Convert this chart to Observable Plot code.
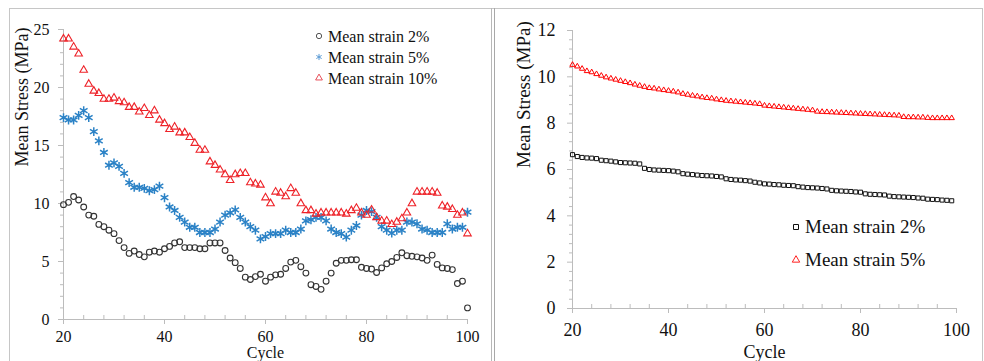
<!DOCTYPE html>
<html>
<head>
<meta charset="utf-8">
<script src="https://cdn.jsdelivr.net/npm/d3@7"></script>
<script src="https://cdn.jsdelivr.net/npm/@observablehq/plot@0.6"></script>
<style>
  html, body { margin: 0; padding: 0; background: #fff; }
  #root { position: relative; width: 984px; height: 361px; overflow: hidden;
          font-family: "Liberation Serif", "Times New Roman", serif; color: #111; }
  .line { position: absolute; background: #c6c6c6; }
  .plot { position: absolute; }
  .plot svg text { font-family: "Liberation Serif", "Times New Roman", serif; }
  .legend { position: absolute; }
  .legend .row { display: flex; align-items: center; white-space: nowrap; }
  .legend svg { display: block; flex: none; }
</style>
</head>
<body>
<div id="root">
  <div class="line" style="left:9px;top:8px;width:974px;height:1px;"></div>
  <div class="line" style="left:9px;top:8px;width:1px;height:353px;"></div>
  <div class="line" style="left:491px;top:8px;width:1px;height:353px;background:#b8b8b8;"></div>
  <div class="line" style="left:494px;top:8px;width:1px;height:353px;background:#a8a8a8;"></div>
  <div class="line" style="left:982px;top:8px;width:1px;height:353px;"></div>
  <div id="left" class="plot" style="left:9px;top:8px;"></div>
  <div id="right" class="plot" style="left:493px;top:8px;"></div>
  <div id="legL" class="legend" style="left:314px;top:25.8px;font-size:16px;line-height:21px;"></div>
  <div id="legR" class="legend" style="left:791px;top:210px;font-size:19px;line-height:33px;"></div>
</div>
<script>
// ---------- Data: left panel ----------
const cyclesLeft = [20,21,22,23,24,25,26,27,28,29,30,31,32,33,34,35,36,37,38,39,
  40,41,42,43,44,45,46,47,48,49,50,51,52,53,54,55,56,57,58,59,
  60,61,62,63,64,65,66,67,68,69,70,71,72,73,74,75,76,77,78,79,
  80,81,82,83,84,85,86,87,88,89,90,91,92,93,94,95,96,97,98,99,100];
const strain2L = [9.9,10.1,10.6,10.3,9.7,9.0,8.9,8.2,8.0,7.7,
  7.4,6.8,6.2,5.7,5.9,5.6,5.4,5.8,5.9,5.8,
  6.1,6.3,6.6,6.7,6.2,6.2,6.2,6.1,6.1,6.6,
  6.6,6.6,5.95,5.3,4.9,4.4,3.65,3.45,3.7,3.9,
  3.3,3.65,3.85,3.9,4.4,4.95,5.1,4.55,4.0,3.0,
  2.85,2.6,3.3,4.0,4.85,5.1,5.1,5.15,5.15,4.5,
  4.4,4.35,4.05,4.45,4.8,5.0,5.35,5.75,5.5,5.45,
  5.4,5.3,5.1,5.55,4.75,4.45,4.4,4.3,3.1,3.3,
  1.0];
const strain5L = [17.4,17.2,17.2,17.6,18.0,17.4,16.2,15.4,14.4,13.3,
  13.5,13.2,12.6,11.8,11.4,11.4,11.3,11.1,11.2,11.5,
  10.5,9.7,9.4,8.8,8.4,7.95,7.95,7.5,7.5,7.5,
  7.8,8.4,9.0,9.2,9.45,8.8,8.4,8.0,7.7,6.95,
  7.15,7.4,7.4,7.4,7.7,7.5,7.5,7.8,8.5,8.6,
  8.8,8.8,8.5,7.8,7.5,7.4,7.1,7.7,8.1,9.0,
  9.4,9.3,8.8,8.0,7.7,7.45,7.7,7.7,8.4,8.4,
  8.25,7.8,7.7,7.5,7.5,7.5,8.25,7.8,7.95,7.95,
  9.25];
const strain10L = [24.2,24.2,23.5,22.9,21.5,20.3,19.7,19.5,19.0,19.0,
  19.1,18.8,18.7,18.3,18.3,17.9,18.2,17.6,18.0,17.2,
  16.9,16.4,16.6,16.1,16.1,15.7,15.2,14.6,14.6,13.6,
  13.3,12.9,12.5,12.0,12.5,12.6,12.6,11.8,11.7,11.6,
  10.5,10.0,11.0,10.9,10.6,11.3,10.9,10.0,9.4,9.4,
  9.1,9.2,9.2,9.2,9.2,9.2,9.1,9.4,9.6,9.2,
  9.0,9.45,8.8,8.5,8.5,8.2,8.4,8.7,9.2,10.0,
  11.0,11.0,11.0,11.0,10.9,9.8,9.7,9.5,9.0,9.2,
  7.4];
const xTicksLeft = [20, 40, 60, 80, 100];
const xMinorLeft = [24,28,32,36,44,48,52,56,64,68,72,76,84,88,92,96];
const yTicksLeft = [0, 5, 10, 15, 20, 25];
const yMinorLeft = [1,2,3,4,6,7,8,9,11,12,13,14,16,17,18,19,21,22,23,24];
const legendLeft = ["Mean strain 2%", "Mean strain 5%", "Mean strain 10%"];

// ---------- Data: right panel ----------
const cyclesRight = [20,21,22,23,24,25,26,27,28,29,30,31,32,33,34,35,36,37,38,39,
  40,41,42,43,44,45,46,47,48,49,50,51,52,53,54,55,56,57,58,59,
  60,61,62,63,64,65,66,67,68,69,70,71,72,73,74,75,76,77,78,79,
  80,81,82,83,84,85,86,87,88,89,90,91,92,93,94,95,96,97,98,99];
const strain2R = [6.64,6.56,6.52,6.5,6.49,6.47,6.4,6.38,6.36,6.33,
  6.3,6.29,6.28,6.27,6.24,6.05,6.0,5.98,5.97,5.96,
  5.95,5.93,5.9,5.82,5.8,5.78,5.76,5.74,5.73,5.72,
  5.7,5.68,5.6,5.57,5.55,5.54,5.52,5.5,5.45,5.42,
  5.38,5.37,5.35,5.34,5.32,5.31,5.3,5.26,5.24,5.22,
  5.21,5.2,5.18,5.16,5.1,5.08,5.07,5.06,5.05,5.03,
  5.02,4.95,4.93,4.92,4.91,4.9,4.85,4.83,4.82,4.81,
  4.8,4.79,4.77,4.76,4.72,4.71,4.7,4.68,4.67,4.65];
const strain5R = [10.52,10.45,10.35,10.25,10.2,10.12,10.05,9.98,9.93,9.88,
  9.83,9.78,9.73,9.67,9.62,9.57,9.52,9.5,9.46,9.43,
  9.4,9.37,9.33,9.27,9.23,9.19,9.16,9.12,9.09,9.07,
  9.03,9.0,8.97,8.95,8.93,8.91,8.89,8.87,8.85,8.83,
  8.76,8.74,8.72,8.7,8.68,8.66,8.64,8.62,8.6,8.58,
  8.56,8.5,8.49,8.48,8.47,8.46,8.45,8.44,8.43,8.42,
  8.41,8.4,8.39,8.38,8.37,8.36,8.35,8.34,8.33,8.27,
  8.26,8.26,8.25,8.25,8.23,8.22,8.22,8.22,8.22,8.22];
const xTicksRight = [20, 40, 60, 80, 100];
const xMinorRight = [24,28,32,36,44,48,52,56,64,68,72,76,84,88,92,96];
const yTicksRight = [0, 2, 4, 6, 8, 10, 12];
const yMinorRight = [0.4,0.8,1.2,1.6,2.4,2.8,3.2,3.6,4.4,4.8,5.2,5.6,6.4,6.8,7.2,7.6,8.4,8.8,9.2,9.6,10.4,10.8,11.2,11.6];
const legendRight = ["Mean strain 2%", "Mean strain 5%"];

// ---------- Styles ----------
const serif = '"Liberation Serif", "Times New Roman", serif';
const axisGray = "#bcbcbc";
const textCol = "#111";
const cCircle = "#333333", cBlue = "#2b82c6", cRedL = "#ee2228", cRedR = "#ff0000", cSquare = "#111111";

function axes(xT, xM, yT, yM, fs, xPad, yPad) {
  return [
    Plot.ruleY([0], {stroke: axisGray}),
    Plot.ruleX([20], {stroke: axisGray}),
    Plot.axisX({ticks: xM, tickSize: 4, dy: -4, stroke: axisGray, fill: "none", label: null}),
    Plot.axisX({ticks: xT, tickSize: 5, stroke: axisGray, fill: "none", label: null}),
    Plot.axisX({ticks: xT, tickSize: 0, tickPadding: xPad, fontSize: fs, fontFamily: serif, fill: textCol, label: null}),
    Plot.axisY({ticks: yM, tickSize: 3, stroke: axisGray, fill: "none", label: null}),
    Plot.axisY({ticks: yT, tickSize: 5, stroke: axisGray, fill: "none", label: null}),
    Plot.axisY({ticks: yT, tickSize: 0, tickPadding: yPad, fontSize: fs, fontFamily: serif, fill: textCol, label: null})
  ];
}

const left = Plot.plot({
  width: 483, height: 353,
  marginTop: 21, marginRight: 25, marginBottom: 42, marginLeft: 54,
  style: {fontFamily: serif, background: "transparent", overflow: "visible"},
  x: {domain: [20, 100]},
  y: {domain: [0, 25]},
  marks: [
    ...axes(xTicksLeft, xMinorLeft, yTicksLeft, yMinorLeft, 16, 11, 14),
    Plot.text(["Mean Stress (MPa)"], {frameAnchor: "left", rotate: -90, dx: -41, dy: -8, fontSize: 18, fontFamily: serif, fill: textCol}),
    Plot.text(["Cycle"], {frameAnchor: "bottom", dy: 38.5, fontSize: 16, fontFamily: serif, fill: textCol}),
    Plot.dot(strain2L, {x: cyclesLeft, y: d => d, symbol: "circle", r: 2.9, stroke: cCircle, strokeWidth: 1.1, fill: "none"}),
    Plot.dot(strain5L, {x: cyclesLeft, y: d => d, symbol: "asterisk", r: 4.2, stroke: cBlue, strokeWidth: 1.5}),
    Plot.dot(strain10L, {x: cyclesLeft, y: d => d, symbol: "triangle", r: 2.8, stroke: cRedL, strokeWidth: 1.1, fill: "none"})
  ]
});
document.getElementById("left").append(left);

const right = Plot.plot({
  width: 490, height: 353,
  marginTop: 22, marginRight: 27, marginBottom: 53, marginLeft: 79,
  style: {fontFamily: serif, background: "transparent", overflow: "visible"},
  x: {domain: [20, 100]},
  y: {domain: [0, 12]},
  marks: [
    ...axes(xTicksRight, xMinorRight, yTicksRight, yMinorRight, 18, 15, 17),
    Plot.text(["Mean Stress (MPa)"], {frameAnchor: "left", rotate: -90, dx: -48.5, dy: -1.5, fontSize: 19, fontFamily: serif, fill: textCol}),
    Plot.text(["Cycle"], {frameAnchor: "bottom", dy: 49, fontSize: 18, fontFamily: serif, fill: textCol}),
    Plot.dot(strain2R, {x: cyclesRight, y: d => d, symbol: "square", r: 2.3, stroke: cSquare, strokeWidth: 1, fill: "none"}),
    Plot.dot(strain5R, {x: cyclesRight, y: d => d, symbol: "triangle", r: 2.0, stroke: cRedR, strokeWidth: 1, fill: "none"})
  ]
});
document.getElementById("right").append(right);

// ---------- Legends ----------
function legend(el, labels, syms, gap) {
  labels.forEach((lab, i) => {
    const row = document.createElement("div");
    row.className = "row";
    const svg = d3.create("svg").attr("width", 10).attr("height", 10).style("margin-right", gap + "px");
    const s = syms[i];
    svg.append("path")
      .attr("transform", "translate(5,5)")
      .attr("d", d3.symbol(s.type, s.size)())
      .attr("fill", "none").attr("stroke", s.color).attr("stroke-width", s.w);
    row.append(svg.node());
    const span = document.createElement("span");
    span.textContent = lab;
    row.append(span);
    el.append(row);
  });
}
legend(document.getElementById("legL"), legendLeft, [
  {type: d3.symbolCircle, size: 22, color: "#555", w: 1},
  {type: d3.symbolAsterisk, size: 26, color: "#5b9bd5", w: 1},
  {type: d3.symbolTriangle, size: 20, color: "#e8505a", w: 1}
], 4);
legend(document.getElementById("legR"), legendRight, [
  {type: d3.symbolSquare, size: 25, color: "#111", w: 1},
  {type: d3.symbolTriangle, size: 24, color: "#ff2020", w: 1}
], 4);
</script>
</body>
</html>
